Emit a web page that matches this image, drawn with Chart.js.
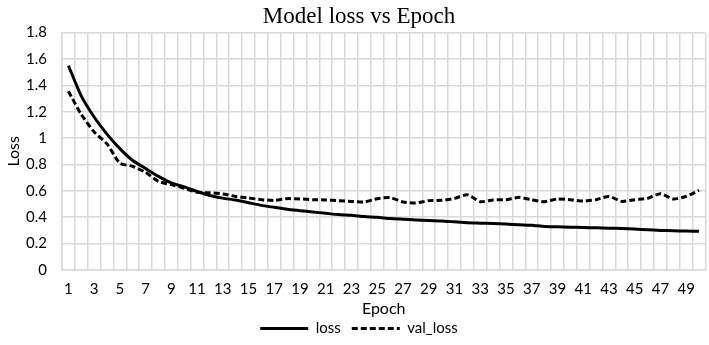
<!DOCTYPE html>
<html>
<head>
<meta charset="utf-8">
<script src="https://cdn.jsdelivr.net/npm/chart.js@4"></script>
<style>
  html, body { margin: 0; padding: 0; background: #fff; overflow: hidden; }
  #wrap { width: 709px; height: 345px; position: relative; }
</style>
</head>
<body>
<div id="wrap"><canvas id="lossChart"></canvas></div>
<script>
// Model loss vs Epoch
const epochs = ['1', '2', '3', '4', '5', '6', '7', '8', '9', '10',
  '11', '12', '13', '14', '15', '16', '17', '18', '19', '20',
  '21', '22', '23', '24', '25', '26', '27', '28', '29', '30',
  '31', '32', '33', '34', '35', '36', '37', '38', '39', '40',
  '41', '42', '43', '44', '45', '46', '47', '48', '49', '50'];

const loss = [1.55, 1.32, 1.16, 1.03, 0.92, 0.83, 0.77, 0.71, 0.66, 0.63,
  0.595, 0.565, 0.545, 0.53, 0.51, 0.49, 0.475, 0.46, 0.45, 0.44,
  0.43, 0.42, 0.415, 0.405, 0.40, 0.39, 0.385, 0.38, 0.375, 0.372,
  0.365, 0.358, 0.355, 0.352, 0.348, 0.343, 0.34, 0.33, 0.328, 0.325,
  0.322, 0.32, 0.317, 0.315, 0.31, 0.305, 0.30, 0.298, 0.295, 0.293];

const valLoss = [1.355, 1.18, 1.047, 0.956, 0.81, 0.786, 0.74, 0.672, 0.647, 0.62,
  0.59, 0.585, 0.577, 0.558, 0.546, 0.533, 0.528, 0.541, 0.539, 0.533,
  0.531, 0.526, 0.52, 0.516, 0.541, 0.549, 0.516, 0.508, 0.526, 0.528,
  0.543, 0.571, 0.518, 0.531, 0.533, 0.551, 0.533, 0.518, 0.539, 0.533,
  0.523, 0.533, 0.558, 0.52, 0.533, 0.543, 0.579, 0.539, 0.558, 0.604];

const yTicks = { min: 0, max: 1.8, step: 0.2 };

const grid = '#d9d9d9';
const textFont = 'Lato, "Open Sans", sans-serif';

// legend: keep the dataset dash on the line sample
function legendLabels(chart) {
  return Chart.defaults.plugins.legend.labels.generateLabels(chart).map((item) => ({
    ...item,
    lineDash: chart.data.datasets[item.datasetIndex].borderDash || []
  }));
}

new Chart(document.getElementById('lossChart').getContext('2d'), {
  type: 'line',
  data: {
    labels: epochs,
    datasets: [
      {
        label: 'loss',
        data: loss,
        borderColor: '#000',
        backgroundColor: '#000',
        borderWidth: 3,
        pointRadius: 0,
        tension: 0.2
      },
      {
        label: 'val_loss',
        data: valLoss,
        borderColor: '#000',
        backgroundColor: '#000',
        borderWidth: 3,
        borderDash: [6, 3],
        pointRadius: 0,
        tension: 0.2
      }
    ]
  },
  options: {
    responsive: true,
    maintainAspectRatio: false,
    animation: false,
    layout: { padding: { left: 0, right: -9, top: 0, bottom: -1 } },
    plugins: {
      title: {
        display: true,
        text: 'Model loss vs Epoch',
        color: '#000',
        font: { family: '"Liberation Serif", "Times New Roman", serif', size: 23, weight: 'normal' },
        padding: { top: 3, bottom: 2 }
      },
      legend: {
        position: 'bottom',
        labels: {
          color: '#000',
          font: { family: textFont, size: 15 },
          usePointStyle: true,
          pointStyle: 'line',
          pointStyleWidth: 48,
          boxHeight: 10,
          padding: 11,
          generateLabels: legendLabels
        }
      },
      tooltip: { enabled: false }
    },
    scales: {
      x: {
        offset: true,
        grid: { color: grid, lineWidth: 1.5, offset: true, drawTicks: false },
        border: { color: grid, width: 1.5 },
        ticks: {
          color: '#000',
          font: { family: textFont, size: 15 },
          padding: 10,
          autoSkip: false,
          maxRotation: 0,
          callback: (v, i) => (i % 2 === 0 ? epochs[i] : '')
        },
        title: {
          display: true,
          text: 'Epoch',
          color: '#000',
          font: { family: textFont, size: 16 },
          padding: { top: -8.6, bottom: -8.6 }
        }
      },
      y: {
        min: yTicks.min,
        max: yTicks.max,
        grid: { color: grid, lineWidth: 1.5, drawTicks: false },
        border: { color: grid, width: 1.5 },
        ticks: {
          stepSize: yTicks.step,
          color: '#000',
          font: { family: textFont, size: 15 },
          padding: 15,
          callback: (v) => String(Number(v.toFixed(1)))
        },
        title: {
          display: true,
          text: 'Loss',
          color: '#000',
          font: { family: textFont, size: 16 },
          padding: { top: 4.5, bottom: -12.7 }
        }
      }
    }
  }
});
</script>
</body>
</html>
